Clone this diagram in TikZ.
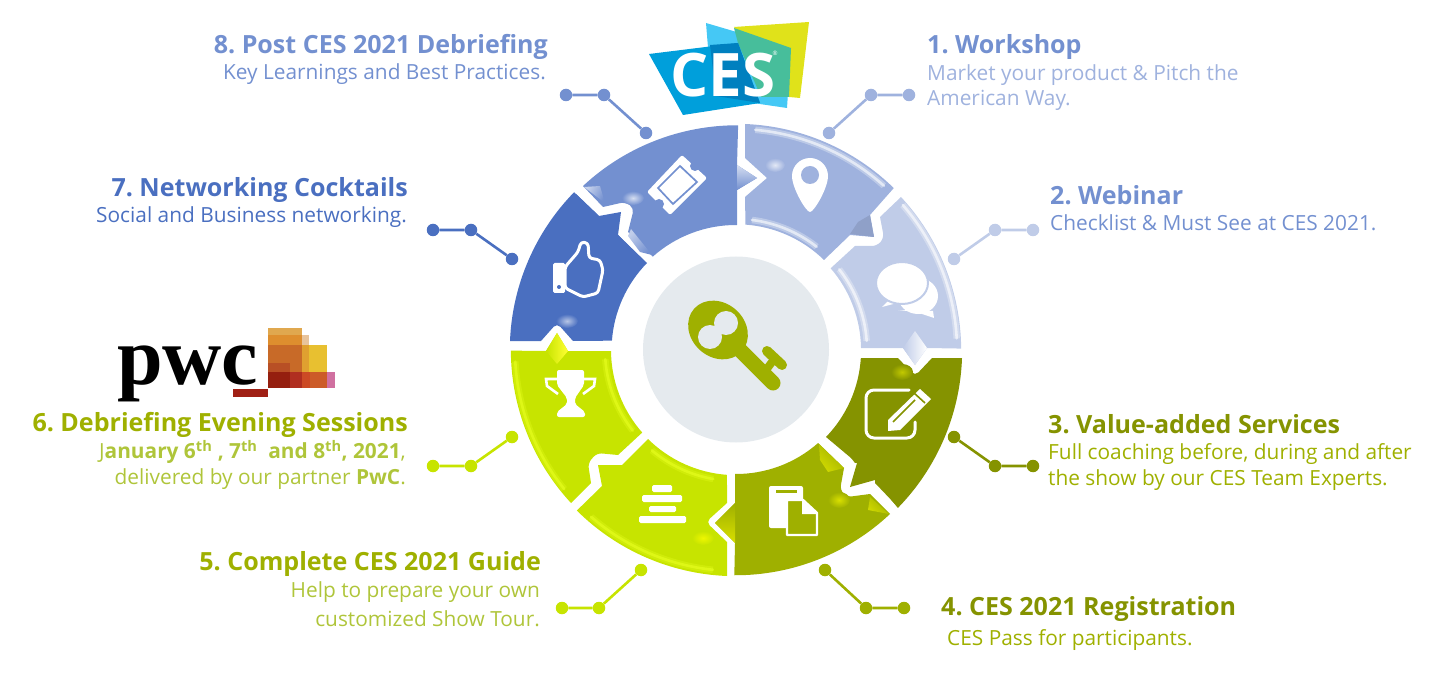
\documentclass[tikz,border=0pt]{standalone}
\usepackage{fontspec}
\setmainfont{Open Sans}
\newfontfamily\serifbold{Liberation Serif}[BoldFont={Liberation Serif Bold}]
\frenchspacing
\definecolor{segone}{HTML}{9FB2DE}
\definecolor{segtwo}{HTML}{C0CCE8}
\definecolor{segthree}{HTML}{859300}
\definecolor{segfour}{HTML}{9FB000}
\definecolor{seglime}{HTML}{C7E400}
\definecolor{segseven}{HTML}{4A6FC0}
\definecolor{segeight}{HTML}{7390D0}
\definecolor{softgreen}{HTML}{AFC53A}
\definecolor{hubgrey}{HTML}{E5EAEE}
\definecolor{rimlime}{HTML}{E8FF20}
\definecolor{cessky}{HTML}{45C8F5}
\definecolor{cesblue}{HTML}{009FDB}
\definecolor{cesdeep}{HTML}{0080BF}
\definecolor{cesyellow}{HTML}{E0E21A}
\definecolor{cesgreen}{HTML}{47BE9B}
\definecolor{pwctan}{HTML}{E0A84F}
\definecolor{pwcorange}{HTML}{DE8E2E}
\definecolor{pwcpale}{HTML}{E8C49C}
\definecolor{pwcrust}{HTML}{C86A28}
\definecolor{pwcamber}{HTML}{E0A030}
\definecolor{pwcyellow}{HTML}{E8C030}
\definecolor{pwcbrick}{HTML}{B84F25}
\definecolor{pwcdark}{HTML}{951F0F}
\definecolor{pwcred}{HTML}{B02E20}
\definecolor{pwcvermil}{HTML}{CC4A25}
\definecolor{pwcclay}{HTML}{CC5C28}
\definecolor{pwcpink}{HTML}{D070A0}
\definecolor{pwcbar}{HTML}{A02015}
\tikzset{
  headtext/.style={font=\fontsize{25.05}{30}\selectfont\bfseries, inner sep=0pt},
  bodytext/.style={font=\fontsize{20.85}{25.5}\selectfont, inner sep=0pt},
  pindot/.style={circle, fill=#1, inner sep=0pt, minimum size=12.5},
  pinline/.style={line width=2.6, #1},
  iconline/.style={white, line width=3, line join=round, line cap=round},
  glint/.style 2 args={inner color=#1, outer color=#2, draw=none},
  bevel/.style 2 args={left color=#1, right color=#2, draw=none},
  bandshade/.style 2 args={left color=#1, middle color=#2, right color=#1, draw=none}
}
% soft highlight along the ring: colour, radius, start and end angle
\newcommand{\rimarc}[4]{%
  \draw[#1, line width=6.5, opacity=.3, line cap=butt] (ctr) ++(#3:#2) arc[start angle=#3, end angle=#4, radius=#2];
  \draw[#1, line width=2.6, opacity=.6, line cap=round] (ctr) ++(#3:#2) arc[start angle=#3, end angle=#4, radius=#2];}

\begin{document}
\begin{tikzpicture}[x=1pt, y=-1pt]
  \useasboundingbox (0,0) rectangle (1442,684);
  \coordinate (ctr) at (736,350);

  % Ring segments
  \fill[segone] (745,124) arc[start angle=-87.7, end angle=-45.7, radius=226]
    -- (870,215) -- (874,237) -- (850,235) -- (824,260)
    arc[start angle=-45.6, end angle=-85.9, radius=125]
    -- (745,197) -- (767,178) -- (745,158) -- cycle;
  \fill[segtwo] (901,197) arc[start angle=-42.8, end angle=-0.5, radius=226]
    -- (927,348) -- (915,365) -- (903,348) -- (861,348)
    arc[start angle=-0.9, end angle=-40.8, radius=125]
    -- (855,246) [rounded corners=5] -- (877,246) -- (884,238) [sharp corners] -- (880,217) -- cycle;
  \fill[segthree] (962,358) arc[start angle=2, end angle=44.3, radius=226]
    -- (875,480) -- (850,487) -- (857,463) -- (826,437)
    arc[start angle=44, end angle=3.7, radius=125]
    -- (898,358) [rounded corners=5] -- (915,376) [sharp corners] -- (932,358) -- cycle;
  \fill[segfour] (890,514) arc[start angle=46.8, end angle=90.25, radius=226]
    -- (735,543) -- (715,523) -- (735,503) -- (735,474)
    arc[start angle=90.5, end angle=48.6, radius=124]
    -- (844,468) [rounded corners=5] -- (840,490) -- (847,497) [sharp corners] -- (870,494) -- cycle;
  \fill[seglime] (727,576) arc[start angle=92.3, end angle=134.8, radius=226]
    -- (602,486) -- (598,465) -- (622,465) -- (648,439)
    arc[start angle=134.7, end angle=94.1, radius=125]
    -- (727,503) [rounded corners=5] -- (706,522) [sharp corners] -- (727,542) -- cycle;
  \fill[seglime] (571,503) arc[start angle=137.2, end angle=179.7, radius=226]
    -- (546,351) -- (557,333) -- (568,351) -- (611,351)
    arc[start angle=179.5, end angle=138.6, radius=125]
    -- (618,455) [rounded corners=5] -- (597,453) -- (588,463) [sharp corners] -- (591,483) -- cycle;
  \fill[segseven] (510,341) arc[start angle=182.3, end angle=224.3, radius=226]
    -- (599,216) -- (621,212) -- (618,235) -- (647,263)
    arc[start angle=224.4, end angle=184.2, radius=124]
    -- (573,341) [rounded corners=5] -- (557,323) [sharp corners] -- (541,341) -- cycle;
  \fill[segeight] (583,186) arc[start angle=227, end angle=270.25, radius=226]
    -- (737,165) -- (757,178) -- (737,190) -- (737,225)
    arc[start angle=270.5, end angle=228.3, radius=125]
    -- (628,232) [rounded corners=5] -- (634,208) -- (625,202) [sharp corners] -- (603,207) -- cycle;

  % Bevels and highlights
  \rimarc{white}{221}{-85}{-48}
  \rimarc{white}{131}{-83}{-52}
  \rimarc{white}{221}{-41}{-3}
  \rimarc{white}{131}{-38}{-4}
  \rimarc{rimlime}{221}{96}{131}
  \rimarc{rimlime}{131}{100}{130}
  \rimarc{rimlime}{221}{141}{177}
  \rimarc{rimlime}{131}{142}{176}
  \shade[glint={segone!30!white}{segone}] (775,165) ellipse[x radius=10, y radius=7];
  \shade[glint={segseven!40!white}{segseven}] (567,321) ellipse[x radius=11, y radius=7];
  \shade[glint={segeight!30!white}{segeight}] (633,198) ellipse[x radius=11, y radius=7];
  \shade[glint={yellow!50!segthree}{segthree}] (902,372) ellipse[x radius=11, y radius=8];
  \shade[glint={yellow!60!segfour}{segfour}] (839,500) ellipse[x radius=11, y radius=8];
  \shade[glint={yellow!70!seglime}{seglime}] (703,538) ellipse[x radius=11, y radius=7];
  \shade[bandshade={segseven}{segseven!20!white}, shading angle=45] (576,194) -- (599,216) -- (597,231) -- (576,207) -- cycle;
  \shade[bandshade={segseven}{segseven!20!white}, shading angle=45] (603,238) -- (618,235) -- (646,263) -- (636,265) -- cycle;
  \shade[bevel={segeight!40!white}{segeight}, shading angle=60] (584,187) -- (600,186) -- (605,203) -- cycle;
  \shade[bevel={segeight!45!white}{segeight}, shading angle=45] (631,229) -- (652,255) -- (640,252) -- (628,236) -- cycle;
  \shade[bevel={segeight!30!white}{segeight}, shading angle=0] (737,165) -- (757,178) -- (737,190) -- cycle;
  \fill[segone!90!black] (850,234) -- (874,237) -- (870,215) -- (858,222) -- cycle;
  \shade[bevel={segtwo}{white}, shading angle=90] (903,348) -- (915,331) -- (927,348) -- (915,365) -- cycle;
  \shade[bandshade={segthree}{segthree!30!white}, shading angle=45] (827,437) -- (866,462) -- (855,463) -- (835,437) -- cycle;
  \shade[bandshade={segthree}{segthree!30!white}, shading angle=45] (875,468) -- (896,498) -- (896,505) -- (875,483) -- cycle;
  \shade[bevel={yellow!50!segfour}{segfour}, shading angle=135] (819,444) -- (844,468) -- (828,472) -- (820,460) -- cycle;
  \shade[bevel={yellow!50!segfour}{segfour}, shading angle=135] (870,497) -- (889,514) -- (868,510) -- cycle;
  \shade[bevel={segfour}{yellow!60!segfour}, shading angle=0] (735,503) -- (715,523) -- (735,543) -- cycle;
  \shade[bevel={seglime}{yellow!80!white}, shading angle=90] (546,351) -- (557,333) -- (568,351) -- (557,364) -- cycle;

  % Hub and key
  \fill[hubgrey] (736,349.5) circle[radius=93];
  \fill[segfour, rotate around={-42:(718,330)}] (718,330) ellipse[x radius=32, y radius=27];
  \draw[segfour, line width=15, line cap=round] (735,345) -- (773,383);
  \draw[segfour, line width=10, line cap=round] (767,351) -- (782,365);
  \draw[segfour, line width=8] (763,374) -- (775,358);
  \fill[hubgrey] (710,337) circle[radius=12] (726,323) circle[radius=12];

  % Ticket
  \fill[white, rounded corners=2] (682,155) -- (707,178) -- (670,215) -- (647,192) -- cycle;
  \fill[segeight] (695,166) circle[radius=5] (659,204) circle[radius=5];
  \draw[segeight, line width=1.7] (680,166) -- (697,182) -- (673,204) -- (658,188) -- cycle;

  % Pin
  \fill[white] (810,212) .. controls (806,212) and (792,188) .. (792,176)
    arc[start angle=180, end angle=360, radius=18]
    .. controls (828,188) and (814,212) .. (810,212) -- cycle;
  \fill[segone] (810,175) circle[radius=9];

  % Speech bubbles
  \fill[white] (918,296) ellipse[x radius=20, y radius=18];
  \fill[white] (898,310) -- (933,311) -- (934,318) -- (916,312) -- cycle;
  \fill[white] (889,300) -- (882,307) -- (897,303) -- cycle;
  \draw[segtwo, line width=2, fill=white] (902,283) ellipse[x radius=26, y radius=21];

  % Edit icon
  \draw[iconline, rounded corners=8] (909,390) -- (866,390) -- (866,438) -- (915,438) -- (915,422);
  \fill[white] (888,420) -- (920,389) -- (931,399) -- (900,430) -- (888,431) -- cycle;
  \draw[segthree, line width=1.6] (893,422) -- (915,400);
  \draw[segthree, line width=1.6] (914,393) -- (925,403);

  % Document icon
  \fill[white, rounded corners=2] (769,486) rectangle (803,528);
  \fill[segfour] (776,490) rectangle (797,493);
  \draw[white, line width=2.4, fill=segfour, line join=round] (787,500) -- (803,500) -- (817,513) -- (817,535) -- (787,535) -- cycle;
  \fill[white] (802,500) -- (817,514) -- (802,514) -- cycle;

  % Bars icon
  \fill[white, rounded corners=1.5] (652,485) rectangle (672,492) (642,495) rectangle (682,502)
    (649,506) rectangle (676,512) (639,516) rectangle (686,523);

  % Trophy
  \fill[white, rounded corners=2] (557,370) -- (584,370) -- (584,385) -- (575,398) -- (575,404) -- (585,412) -- (585,417) -- (557,417) -- (557,412) -- (567,404) -- (567,398) -- (557,385) -- cycle;
  \draw[white, line width=2.6] (557,379) -- (546,379) -- (547,386) -- (558,394);
  \draw[white, line width=2.6] (584,379) -- (595,379) -- (594,386) -- (583,394);

  % Thumb
  \draw[iconline, fill=segseven, rounded corners=3] (565,267) -- (578,252) -- (581,242) -- (588,243) -- (589,258) -- (600,260) -- (603,270) -- (598,293) -- (583,297) -- (565,288) -- cycle;
  \fill[white, rounded corners=1.5] (553,263) rectangle (565,293);
  \fill[segseven] (559,287) circle[radius=2];

  % CES logo
  \fill[cessky] (706,23) -- (791,48) -- (787,108) -- (712,97) -- cycle;
  \fill[cesyellow] (734,27) -- (809,22) -- (800,98) -- (789,97) -- cycle;
  \fill[cesgreen] (734,28) -- (791,48) -- (789,97) -- (761,97) -- (738,43) -- cycle;
  \fill[cesblue] (649,54) -- (738,43) -- (760,103) -- (683,115) -- cycle;
  \fill[cesdeep] (710,45) -- (738,43) -- (760,103) -- (716,96) -- cycle;
  \node[text=white, font=\fontsize{60}{60}\selectfont\bfseries, anchor=base, inner sep=0pt] (ceslogo) at (723,97) {CES};
  \node[text=white, font=\fontsize{6}{6}\selectfont, inner sep=0pt] (cesmark) at (775,53) {®};

  % PwC logo
  \fill[pwctan] (268,328) rectangle (302,335);
  \fill[pwcorange] (268,335) rectangle (302,345);
  \fill[pwcpale] (302,335) rectangle (309,345);
  \fill[pwcrust] (268,345) rectangle (302,363);
  \fill[pwcamber] (302,345) rectangle (309,372);
  \fill[pwcyellow] (309,345) rectangle (327,372);
  \fill[pwcrust] (290,363) rectangle (302,372);
  \fill[pwcbrick] (268,363) rectangle (290,372);
  \fill[pwcdark] (268,372) rectangle (290,388);
  \fill[pwcred] (290,372) rectangle (302,388);
  \fill[pwcvermil] (302,372) rectangle (310,388);
  \fill[pwcclay] (310,372) rectangle (327,388);
  \fill[pwcpink] (327,372) rectangle (335,388);
  \fill[pwcbar] (233,389) rectangle (268,397);
  \node[font=\fontsize{82}{82}\serifbold\bfseries\selectfont, anchor=base west, inner sep=0pt] (pwclogo) at (117,384) {pwc};

  % Labels
  \node[headtext, text=segeight, anchor=base east] (t8) at (548,54) {8. Post CES 2021 Debriefing};
  \node[bodytext, text=segeight, anchor=base east] (b8) at (546,80) {Key Learnings and Best Practices.};
  \node[headtext, text=segeight, anchor=base west] (t1) at (927,54) {1. Workshop};
  \node[bodytext, text=segone, anchor=west, align=left] (b1) at (927,87.5) {Market your product \& Pitch the\\American Way.};
  \node[headtext, text=segeight, anchor=base west] (t2) at (1050,205) {2. Webinar};
  \node[bodytext, text=segeight, anchor=base west] (b2) at (1050,231) {Checklist \& Must See at CES 2021.};
  \node[headtext, text=segthree, anchor=base west] (t3) at (1048,433) {3. Value-added Services};
  \node[bodytext, text=segfour, anchor=west, align=left] (b3) at (1048,467) {Full coaching before, during and after\\the show by our CES Team Experts.};
  \node[headtext, text=segthree, anchor=base west] (t4) at (941,615) {4. CES 2021 Registration};
  \node[bodytext, text=segfour, anchor=base west] (b4) at (947,645) {CES Pass for participants.};
  \node[headtext, text=segfour, anchor=base east] (t5) at (541,570) {5. Complete CES 2021 Guide};
  \node[bodytext, text=softgreen, anchor=east, align=right, font=\fontsize{20.85}{29}\selectfont] (b5) at (540,604.5) {Help to prepare your own\\customized Show Tour.};
  \node[headtext, text=segfour, anchor=base east] (t6) at (408,431) {6. Debriefing Evening Sessions};
  \node[bodytext, text=softgreen, anchor=east, align=right] (b6) at (406,464.5) {J\textbf{anuary 6\textsuperscript{th} , 7\textsuperscript{th}~ and 8\textsuperscript{th}, 2021},\\delivered by our partner \textbf{PwC}.};
  \node[headtext, text=segseven, anchor=base east] (t7) at (408,197) {7. Networking Cocktails};
  \node[bodytext, text=segseven, anchor=base east] (b7) at (407,223) {Social and Business networking.};

  % Leader lines
  \node[pindot=segone] (d1a) at (829,133) {};
  \node[pindot=segone] (d1b) at (871,95) {};
  \node[pindot=segone] (d1c) at (909,95) {};
  \draw[pinline=segone] (d1a) -- (d1b) -- (d1c);
  \node[pindot=segtwo] (d2a) at (954,259) {};
  \node[pindot=segtwo] (d2b) at (995,230) {};
  \node[pindot=segtwo] (d2c) at (1033,230) {};
  \draw[pinline=segtwo] (d2a) -- (d2b) -- (d2c);
  \node[pindot=segthree] (d3a) at (954,437) {};
  \node[pindot=segthree] (d3b) at (995,466) {};
  \node[pindot=segthree] (d3c) at (1033,466) {};
  \draw[pinline=segthree] (d3a) -- (d3b) -- (d3c);
  \node[pindot=segfour] (d4a) at (825,570) {};
  \node[pindot=segfour] (d4b) at (866,608) {};
  \node[pindot=segfour] (d4c) at (904,608) {};
  \draw[pinline=segfour] (d4a) -- (d4b) -- (d4c);
  \node[pindot=seglime] (d5a) at (641,570) {};
  \node[pindot=seglime] (d5b) at (599,608) {};
  \node[pindot=seglime] (d5c) at (562,608) {};
  \draw[pinline=seglime] (d5a) -- (d5b) -- (d5c);
  \node[pindot=seglime] (d6a) at (512,437) {};
  \node[pindot=seglime] (d6b) at (471,466) {};
  \node[pindot=seglime] (d6c) at (433,466) {};
  \draw[pinline=seglime] (d6a) -- (d6b) -- (d6c);
  \node[pindot=segseven] (d7a) at (512,259) {};
  \node[pindot=segseven] (d7b) at (471,230) {};
  \node[pindot=segseven] (d7c) at (433,230) {};
  \draw[pinline=segseven] (d7a) -- (d7b) -- (d7c);
  \node[pindot=segeight] (d8a) at (646,133) {};
  \node[pindot=segeight] (d8b) at (604,95) {};
  \node[pindot=segeight] (d8c) at (566,95) {};
  \draw[pinline=segeight] (d8a) -- (d8b) -- (d8c);
\end{tikzpicture}
\end{document}
